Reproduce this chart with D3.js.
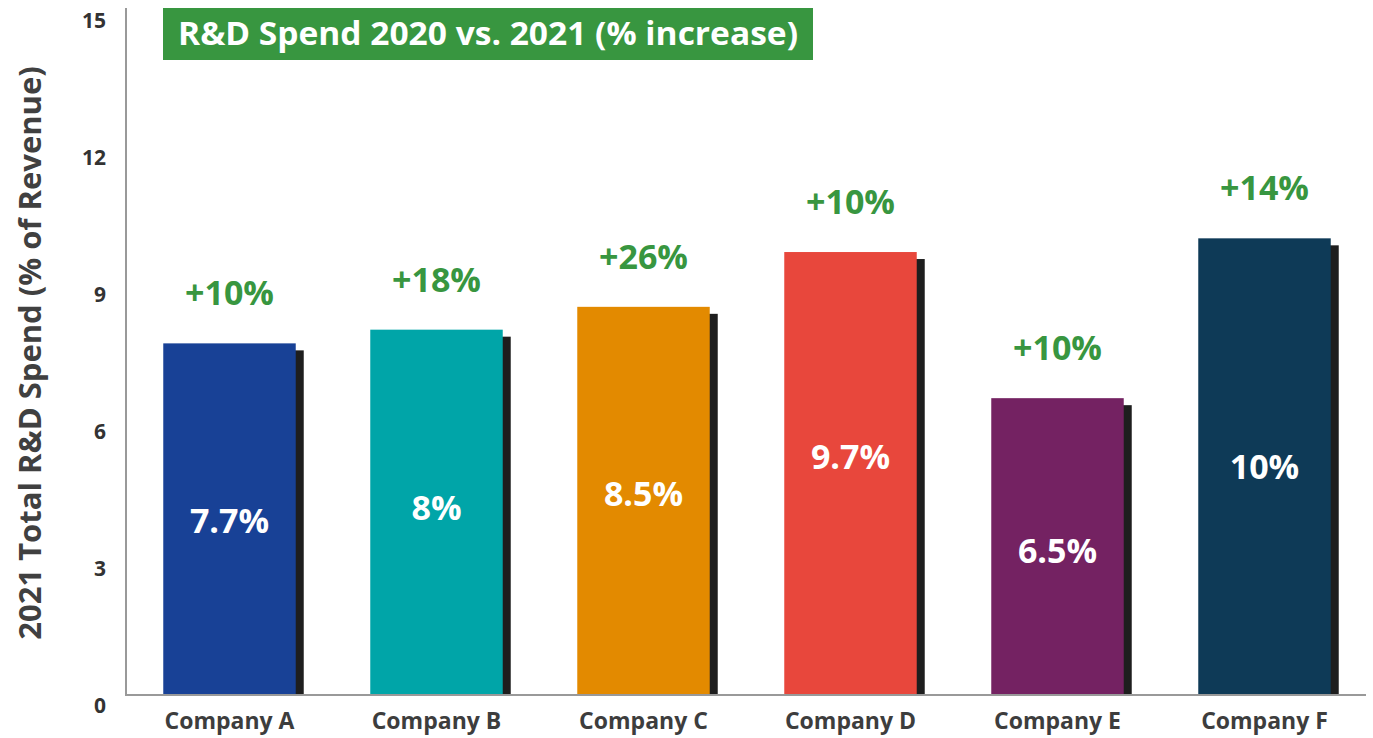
<!DOCTYPE html>
<html>
<head>
<meta charset="utf-8">
<script src="https://cdn.jsdelivr.net/npm/d3@7"></script>
<style>
  body { margin: 0; background: #fff; }
  svg { display: block; font-family: "Open Sans", "Lato", sans-serif; }
</style>
</head>
<body>
<svg width="1373" height="738"></svg>
<script>
// Chart data
const companies = ["Company A", "Company B", "Company C", "Company D", "Company E", "Company F"];
const spend2021 = [7.7, 8, 8.5, 9.7, 6.5, 10];
const spendLabels = ["7.7%", "8%", "8.5%", "9.7%", "6.5%", "10%"];
const labelAt = [3.8, 4.1, 4.4, 5.2, 3.15, 5.0];   // where the value label sits (in % units)
const increaseLabels = ["+10%", "+18%", "+26%", "+10%", "+10%", "+14%"];
const barColors = ["#184196", "#00a5a8", "#e38a00", "#e8473c", "#742262", "#0e3a57"];
const yTicks = [0, 3, 6, 9, 12, 15];

const GREEN = "#389640";
const SHADOW = "#1e1e1e";

const svg = d3.select("svg");

// Scales
const x = d3.scaleBand()
    .domain(companies)
    .range([126, 1368])
    .paddingInner(0.36)
    .paddingOuter(0.18);

const y = d3.scaleLinear().domain([0, 15]).range([695, 10]);

const data = companies.map((c, i) => ({
    name: c, value: spend2021[i], label: spendLabels[i], at: labelAt[i],
    inc: increaseLabels[i], color: barColors[i]
}));

// Shadow bars first, then the colored ones on top
svg.append("g").selectAll("rect")
    .data(data)
    .enter().append("rect")
    .attr("x", d => x(d.name) + 8)
    .attr("y", d => y(d.value) + 7)
    .attr("width", x.bandwidth())
    .attr("height", d => y(0) - y(d.value) - 7)
    .attr("fill", SHADOW);

svg.append("g").selectAll("rect")
    .data(data)
    .enter().append("rect")
    .attr("x", d => x(d.name))
    .attr("y", d => y(d.value))
    .attr("width", x.bandwidth())
    .attr("height", d => y(0) - y(d.value))
    .attr("fill", d => d.color);

// Value labels inside bars
svg.append("g").selectAll("text")
    .data(data)
    .enter().append("text")
    .attr("x", d => x(d.name) + x.bandwidth() / 2)
    .attr("y", d => y(d.at))
    .attr("dy", "0.35em")
    .attr("text-anchor", "middle")
    .attr("fill", "#fff")
    .attr("font-weight", "bold")
    .attr("font-size", 34)
    .text(d => d.label);

// Increase labels above bars
svg.append("g").selectAll("text")
    .data(data)
    .enter().append("text")
    .attr("x", d => x(d.name) + x.bandwidth() / 2)
    .attr("y", d => y(d.value) - 50)
    .attr("dy", "0.35em")
    .attr("text-anchor", "middle")
    .attr("fill", GREEN)
    .attr("font-weight", "bold")
    .attr("font-size", 34)
    .text(d => d.inc);

// Axes lines
svg.append("line")
    .attr("x1", 126).attr("x2", 126)
    .attr("y1", 8).attr("y2", y(0) + 1)
    .attr("stroke", "#999").attr("stroke-width", 2);

svg.append("line")
    .attr("x1", 125).attr("x2", 1366)
    .attr("y1", y(0)).attr("y2", y(0))
    .attr("stroke", "#999").attr("stroke-width", 2);

// Y tick labels (sit a little below their value, as in the original)
svg.append("g").selectAll("text")
    .data(yTicks)
    .enter().append("text")
    .attr("x", 106)
    .attr("y", d => y(d) + 11)
    .attr("dy", "0.35em")
    .attr("text-anchor", "end")
    .attr("fill", "#333")
    .attr("font-weight", "bold")
    .attr("font-size", 21)
    .text(d => d);

// Category labels
svg.append("g").selectAll("text")
    .data(companies)
    .enter().append("text")
    .attr("x", d => x(d) + x.bandwidth() / 2)
    .attr("y", 721)
    .attr("dy", "0.35em")
    .attr("text-anchor", "middle")
    .attr("fill", "#3d3d3d")
    .attr("font-weight", "bold")
    .attr("font-size", 23)
    .text(d => d);

// Y axis title
svg.append("text")
    .attr("transform", "translate(30,353) rotate(-90)")
    .attr("dy", "0.35em")
    .attr("text-anchor", "middle")
    .attr("fill", "#404040")
    .attr("font-weight", "bold")
    .attr("font-size", 31)
    .text("2021 Total R&D Spend (% of Revenue)");

// Title box
svg.append("rect")
    .attr("x", 163).attr("y", 8)
    .attr("width", 650).attr("height", 52)
    .attr("fill", GREEN);

svg.append("text")
    .attr("x", 488).attr("y", 34)
    .attr("dy", "0.35em")
    .attr("text-anchor", "middle")
    .attr("fill", "#fff")
    .attr("font-weight", "bold")
    .attr("font-size", 32)
    .attr("textLength", 620)
    .attr("lengthAdjust", "spacingAndGlyphs")
    .text("R&D Spend 2020 vs. 2021 (% increase)");
</script>
</body>
</html>
